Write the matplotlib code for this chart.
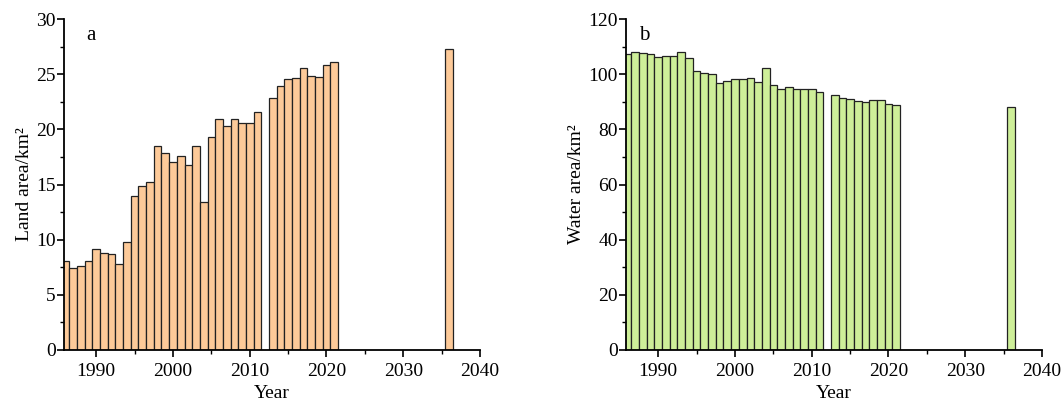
import numpy as np
import matplotlib.pyplot as plt
from matplotlib.ticker import MultipleLocator

plt.rcParams['font.family'] = ['Liberation Serif', 'DejaVu Serif']
plt.rcParams['font.size'] = 14

years = [1986, 1987, 1988, 1989, 1990, 1991, 1992, 1993, 1994, 1995,
         1996, 1997, 1998, 1999, 2000, 2001, 2002, 2003, 2004, 2005,
         2006, 2007, 2008, 2009, 2010, 2011, 2013, 2014, 2015, 2016,
         2017, 2018, 2019, 2020, 2021, 2036]

land_area = [8.1, 7.4, 7.65, 8.1, 9.18, 8.82, 8.73, 7.76, 9.82, 13.99,
             14.9, 15.26, 18.52, 17.85, 17.0, 17.6, 16.8, 18.49, 13.4, 19.34,
             20.9, 20.3, 20.97, 20.57, 20.57, 21.57, 22.87, 23.9, 24.53, 24.65,
             25.56, 24.86, 24.77, 25.83, 26.13, 27.31]

water_area = [107.4, 108.2, 107.7, 107.3, 106.3, 106.5, 106.5, 107.9, 105.9, 101.0,
              100.3, 100.2, 96.8, 97.5, 98.4, 98.1, 98.7, 97.3, 102.1, 96.1,
              94.7, 95.2, 94.5, 94.6, 94.7, 93.5, 92.6, 91.2, 90.9, 90.4,
              89.8, 90.5, 90.5, 89.3, 88.9, 88.1]

fig = plt.figure(figsize=(10.61, 4.03), dpi=100)
W, H = 1061, 403
ax1 = fig.add_axes([64 / W, 1 - 350 / H, (480 - 64) / W, (350 - 19) / H])
ax2 = fig.add_axes([626 / W, 1 - 350 / H, (1042 - 626) / W, (350 - 19) / H])


def draw_panel(ax, values, color, ymax, major, minor, ylabel, letter, lx):
    ax.bar(years, values, width=1.0, color=color, edgecolor='#222222', linewidth=0.9)
    ax.set_xlim(1985.8, 2040)
    ax.set_ylim(0, ymax)
    ax.xaxis.set_major_locator(MultipleLocator(10))
    ax.xaxis.set_minor_locator(MultipleLocator(5))
    ax.yaxis.set_major_locator(MultipleLocator(major))
    ax.yaxis.set_minor_locator(MultipleLocator(minor))
    ax.spines['top'].set_visible(False)
    ax.spines['right'].set_visible(False)
    ax.spines['left'].set_linewidth(1.3)
    ax.spines['bottom'].set_linewidth(1.3)
    ax.tick_params(which='major', direction='out', length=5, width=1.2, pad=1)
    ax.tick_params(axis='x', which='major', pad=4)
    ax.tick_params(which='minor', direction='out', length=3, width=1.0)
    ax.set_xlabel('Year', labelpad=4)
    ax.set_ylabel(ylabel, labelpad=2)
    ax.text(lx, 0.98, letter, transform=ax.transAxes, ha='left', va='top', fontsize=15)


draw_panel(ax1, land_area, '#FDCA99', 30, 5, 2.5, 'Land area/km²', 'a', 0.053)
draw_panel(ax2, water_area, '#CEEF99', 120, 20, 10, 'Water area/km²', 'b', 0.031)

fig.savefig('out.png', dpi=100)
